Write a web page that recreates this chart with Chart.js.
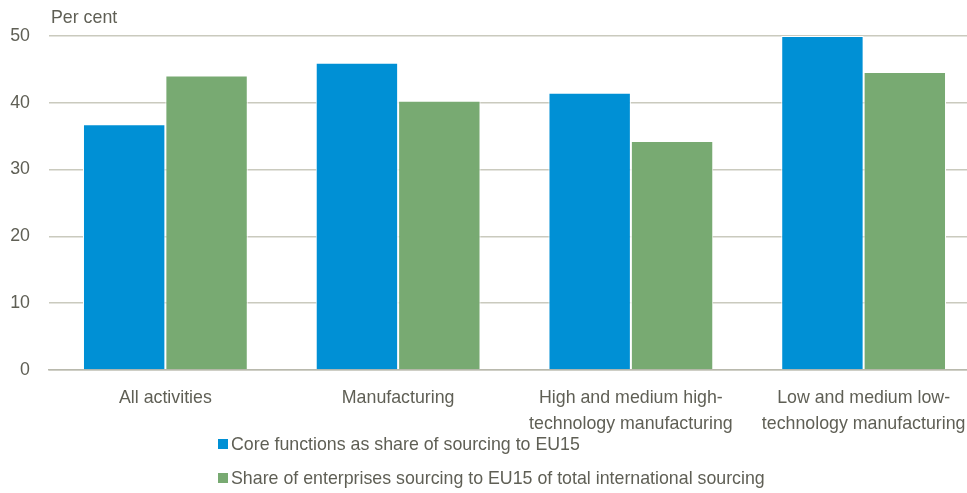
<!DOCTYPE html>
<html>
<head>
<meta charset="utf-8">
<script src="https://cdn.jsdelivr.net/npm/chart.js@4/dist/chart.umd.min.js"></script>
<style>
  html, body { margin: 0; padding: 0; background: #fff; overflow: hidden; }
  #wrap { position: relative; width: 967px; height: 493px; overflow: hidden; }
  #legend { position: absolute; left: 218px; top: 432px; font-family: 'Liberation Sans', Arial, sans-serif; font-size: 17.8px; color: #5f5f55; }
  #legend div { height: 34px; line-height: 24px; white-space: nowrap; }
  #legend span.box { display: inline-block; width: 10px; height: 10px; margin-right: 3px; vertical-align: 1px; }
</style>
</head>
<body>
<div id="wrap">
  <canvas id="chart" width="980" height="493"></canvas>
  <div id="legend"></div>
</div>
<script>
// ===== DATOS =====
const categories = [
  'All activities',
  'Manufacturing',
  ['High and medium high-', 'technology manufacturing'],
  ['Low and medium low-', 'technology manufacturing']
];
const coreFunctions = [36.8, 46.0, 41.5, 50.0];
const shareEnterprises = [44.1, 40.3, 34.3, 44.6];
const yTicks = [0, 10, 20, 30, 40, 50];
const seriesNames = [
  'Core functions as share of sourcing to EU15',
  'Share of enterprises sourcing to EU15 of total international sourcing'
];
const seriesColors = ['#0090d5', '#78aa72'];

const FONT = "'Liberation Sans', Arial, sans-serif";
const FONT_SIZE = 17.8;
const TEXT = '#5f5f55';

// ===== ETIQUETA DEL EJE Y =====
const unitLabel = {
  id: 'unitLabel',
  afterDraw: function(chart) {
    const ctx = chart.ctx;
    ctx.save();
    ctx.font = FONT_SIZE + 'px ' + FONT;
    ctx.fillStyle = TEXT;
    ctx.textBaseline = 'alphabetic';
    ctx.fillText('Per cent', chart.chartArea.left + 2, 23);
    ctx.restore();
  }
};

// ===== LEYENDA =====
const legendEl = document.getElementById('legend');
legendEl.innerHTML = seriesNames.map(function(name, i) {
  return '<div><span class="box" style="background:' + seriesColors[i] + '"></span>' + name + '</div>';
}).join('');

// ===== GRÁFICO =====
new Chart(document.getElementById('chart'), {
  type: 'bar',
  data: {
    labels: categories,
    datasets: [
      { label: seriesNames[0], data: coreFunctions, backgroundColor: seriesColors[0], borderColor: '#fff', borderWidth: 1 },
      { label: seriesNames[1], data: shareEnterprises, backgroundColor: seriesColors[1], borderColor: '#fff', borderWidth: 1 }
    ]
  },
  options: {
    responsive: false,
    animation: false,
    layout: { padding: { top: 36, right: 0, bottom: 0, left: 0 } },
    datasets: { bar: { barPercentage: 1, categoryPercentage: 0.708 } },
    plugins: { legend: { display: false }, tooltip: { enabled: false } },
    scales: {
      x: {
        afterFit: function(scale) { scale.height = 123; },
        grid: { display: false },
        border: { display: true, color: '#b9b9ad', width: 1.5 },
        ticks: { color: TEXT, font: { family: FONT, size: FONT_SIZE, lineHeight: 1.45 }, padding: 7, maxRotation: 0, autoSkip: false }
      },
      y: {
        min: 0,
        max: 50,
        afterFit: function(scale) { scale.width = 49; },
        afterBuildTicks: function(scale) { scale.ticks = yTicks.map(function(v) { return { value: v }; }); },
        grid: { color: '#cacabe', lineWidth: 1.5, drawTicks: false },
        border: { display: false },
        ticks: { color: TEXT, font: { family: FONT, size: FONT_SIZE }, padding: 19 }
      }
    }
  },
  plugins: [unitLabel]
});
</script>
</body>
</html>
